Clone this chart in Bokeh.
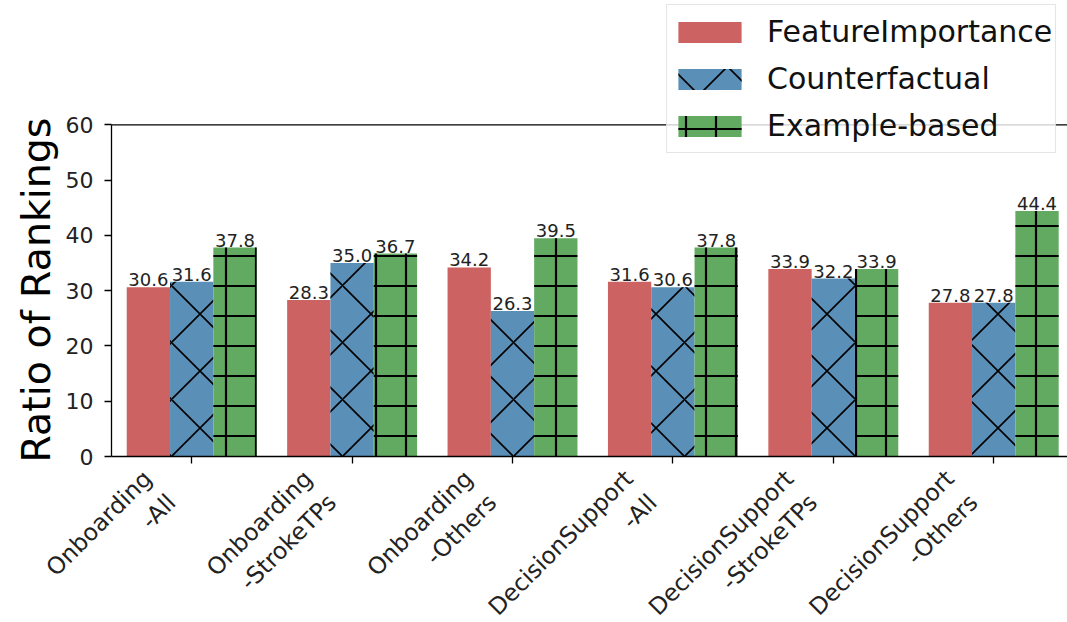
import math
from bokeh.plotting import figure
from bokeh.models import (ColumnDataSource, Range1d, FixedTicker, Span, Legend, LegendItem,
                          LinearAxis, Title)
from bokeh.core.properties import value
from bokeh.embed import file_html
from bokeh.resources import INLINE

categories = ["Onboarding\n-All", "Onboarding\n-StrokeTPs", "Onboarding\n-Others",
              "DecisionSupport\n-All", "DecisionSupport\n-StrokeTPs", "DecisionSupport\n-Others"]
series_names = ["FeatureImportance", "Counterfactual", "Example-based"]
feature_importance = [30.6, 28.3, 34.2, 31.6, 33.9, 27.8]
counterfactual = [31.6, 35.0, 26.3, 30.6, 32.2, 27.8]
example_based = [37.8, 36.7, 39.5, 37.8, 33.9, 44.4]
y_ticks = [0, 10, 20, 30, 40, 50, 60]

series = [feature_importance, counterfactual, example_based]
colors = ["#cc6262", "#5a8fb8", "#62aa62"]
hatches = [" ", "x", "+"]
hatch_scales = [12, 57, 30]
hatch_weights = [1, 1.6, 2.2]
offsets = [-0.27, 0.0, 0.27]
bar_w = 0.27

FONT = "DejaVu Sans"
X0, X1 = -0.5, 5.46
LABEL_SHIFT = 0.2  # rotated labels sit left of their tick, as in matplotlib ha="right"

p = figure(frame_width=956, frame_height=456, min_border_left=111, min_border_top=0,
           min_border_right=0, min_border_bottom=166,
           x_range=Range1d(X0, X1), y_range=Range1d(0, 82.49), x_axis_location=None,
           output_backend="svg", toolbar_location=None)
p.extra_x_ranges = {"labels": Range1d(X0 + LABEL_SHIFT, X1 + LABEL_SHIFT)}
p.outline_line_color = None
p.xgrid.visible = False
p.ygrid.visible = False
p.background_fill_color = "white"
p.border_fill_color = "white"

renderers = []
for s, vals in enumerate(series):
    xs = [i + offsets[s] for i in range(len(categories))]
    src = ColumnDataSource(dict(x=xs, top=vals, lab=["%.1f" % v for v in vals]))
    kw = dict(fill_color=colors[s], line_color=None)
    if hatches[s].strip():
        kw.update(hatch_pattern=hatches[s], hatch_scale=hatch_scales[s],
                  hatch_weight=hatch_weights[s], hatch_color="black")
    r = p.vbar(x="x", top="top", width=bar_w, bottom=0, source=src, **kw)
    renderers.append(r)
    p.text(x="x", y="top", text="lab", source=src, text_align="center", text_baseline="bottom",
           y_offset=-1, text_font=value(FONT), text_font_size="18px", text_color="#222222")

# top spine
p.add_layout(Span(location=y_ticks[-1], dimension="width", line_color="black", line_width=1.3))

# y axis
yax = p.yaxis
yax.ticker = FixedTicker(ticks=y_ticks)
yax.bounds = (y_ticks[0], y_ticks[-1])
yax.axis_line_color = "black"
yax.axis_line_width = 1.3
yax.major_tick_line_color = "black"
yax.major_tick_line_width = 1.3
yax.major_tick_out = 7
yax.major_tick_in = 0
yax.minor_tick_line_color = None
yax.major_label_text_font = FONT
yax.major_label_text_font_size = "22px"
yax.major_label_text_color = "#222222"
yax.major_label_standoff = 11

# x axis: labels on the shifted range (ha="right" look); visible tick marks are the
# minor ticks, which fall exactly on the group centres of the main range
cat_idx = list(range(len(categories)))
xax = LinearAxis(x_range_name="labels",
                 ticker=FixedTicker(ticks=cat_idx, minor_ticks=[i + LABEL_SHIFT for i in cat_idx]),
                 major_label_overrides={i: c for i, c in enumerate(categories)},
                 major_label_orientation=math.pi / 4, major_label_standoff=23,
                 axis_line_color="black", axis_line_width=1.3,
                 major_tick_line_color=None, major_tick_out=7, major_tick_in=0,
                 minor_tick_line_color="black", minor_tick_line_width=1.3,
                 minor_tick_out=7, minor_tick_in=0)
xax.major_label_text_font = FONT
xax.major_label_text_font_size = "23.5px"
xax.major_label_text_color = "#222222"
p.add_layout(xax, "below")

# y-axis label, aligned with the 0..60 extent of the axis
ylab = Title(text="Ratio of Rankings", align="left", offset=-6, vertical_align="top",
             text_font=FONT, text_font_size="39.5px", text_font_style="normal",
             text_color="black", standoff=4)
p.add_layout(ylab, "left")

legend = Legend(items=[LegendItem(label=series_names[i], renderers=[renderers[i]]) for i in range(3)],
                location=(555, 303), orientation="vertical")
legend.label_text_font = FONT
legend.label_text_font_size = "30px"
legend.label_text_color = "#111111"
legend.glyph_width = 79
legend.glyph_height = 26
legend.label_height = 47
legend.label_standoff = 18
legend.spacing = 0
legend.padding = 3
legend.margin = 0
legend.border_line_color = "#cccccc"
legend.border_line_width = 1.5
legend.background_fill_alpha = 0.8
p.add_layout(legend, "center")

open("out.html", "w").write(file_html(p, INLINE))
